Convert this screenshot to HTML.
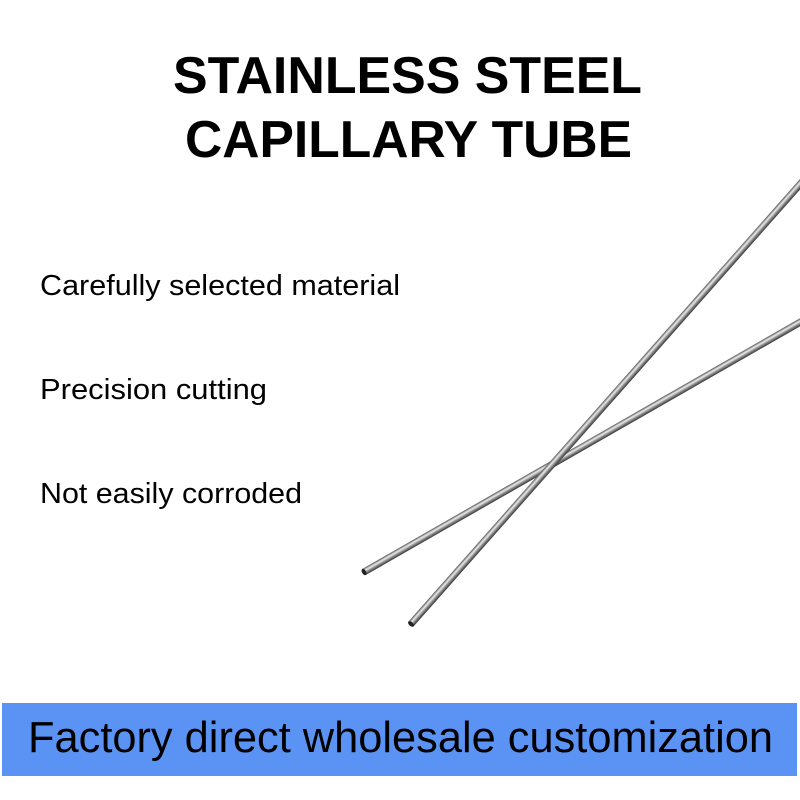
<!DOCTYPE html>
<html><head><meta charset="utf-8"><style>
html,body{margin:0;padding:0;background:#fff;}
svg{display:block}
</style></head><body>
<svg width="800" height="800" viewBox="0 0 800 800" xmlns="http://www.w3.org/2000/svg">
<defs>
<linearGradient id="g1" gradientUnits="userSpaceOnUse" x1="0" y1="-3.5" x2="0" y2="3.5">
<stop offset="0" stop-color="#555"/><stop offset="0.35" stop-color="#eee"/><stop offset="0.6" stop-color="#999"/><stop offset="1" stop-color="#333"/>
</linearGradient>
</defs>
<text x="173" y="93" font-family="Liberation Sans, sans-serif" font-weight="bold" font-size="52" textLength="469" lengthAdjust="spacingAndGlyphs" fill="#000">STAINLESS STEEL</text>
<text x="185" y="157" font-family="Liberation Sans, sans-serif" font-weight="bold" font-size="52" textLength="447" lengthAdjust="spacingAndGlyphs" fill="#000">CAPILLARY TUBE</text>
<g font-family="Liberation Sans, sans-serif" font-size="29" fill="#000">
<text x="40" y="295" textLength="360" lengthAdjust="spacingAndGlyphs">Carefully selected material</text>
<text x="40" y="399" textLength="227" lengthAdjust="spacingAndGlyphs">Precision cutting</text>
<text x="40" y="503" textLength="262" lengthAdjust="spacingAndGlyphs">Not easily corroded</text>
</g>
<!-- tube B (shallower) -->
<g transform="translate(364,572) rotate(-29.8)">
<rect x="0" y="-3.5" width="510" height="7" fill="url(#g1)"/>
<ellipse cx="0" cy="0" rx="2" ry="3.5" fill="#222"/>
</g>
<!-- tube A (steeper) -->
<g transform="translate(411,624) rotate(-48.5)">
<rect x="0" y="-3.5" width="600" height="7" fill="url(#g1)"/>
<ellipse cx="0" cy="0" rx="2" ry="3.5" fill="#222"/>
</g>
<rect x="2" y="703" width="795" height="73" fill="#5b93f5"/>
<text x="28" y="752" font-family="Liberation Sans, sans-serif" font-size="44" textLength="745" lengthAdjust="spacingAndGlyphs" fill="#000">Factory direct wholesale customization</text>
</svg>
</body></html>
